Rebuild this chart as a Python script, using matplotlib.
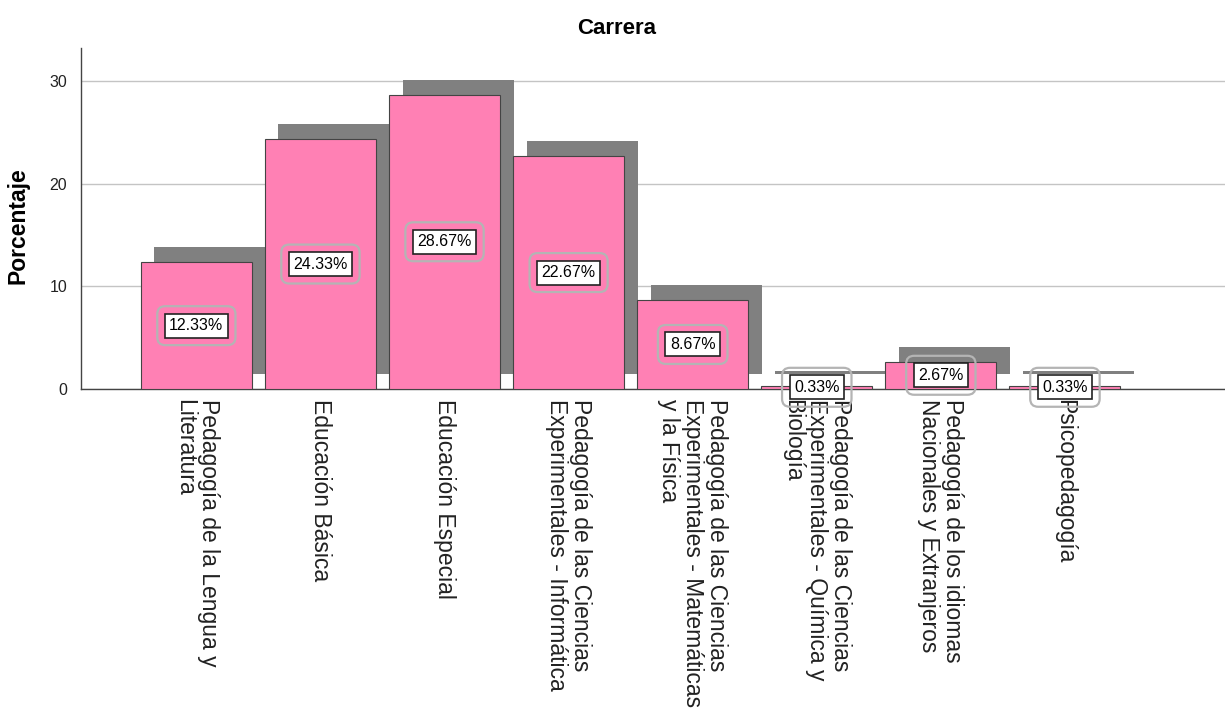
import numpy as np
import matplotlib
matplotlib.use('Agg')
import matplotlib.pyplot as plt

plt.rcParams['font.family'] = ['Liberation Sans', 'DejaVu Sans']

carreras = ['Pedagogía de la Lengua y\nLiteratura',
            'Educación Básica',
            'Educación Especial',
            'Pedagogía de las Ciencias\nExperimentales - Informática',
            'Pedagogía de las Ciencias\nExperimentales - Matemáticas\ny la Física',
            'Pedagogía de las Ciencias\nExperimentales - Química y\nBiología',
            'Pedagogía de los idiomas\nNacionales y Extranjeros',
            'Psicopedagogía']
porcentaje = [12.33, 24.33, 28.67, 22.67, 8.67, 0.33, 2.67, 0.33]

rosa = '#ff80b4'
sombra = '#808080'

fig = plt.figure(figsize=(12.25, 7.11), dpi=100)
ax = fig.add_axes([0.0661, 0.4529, 0.9339, 0.4796])

x = np.arange(len(carreras))
w = 0.895
# sombra desplazada
ax.bar(x + 0.109, porcentaje, width=w, bottom=1.45, color=sombra, zorder=2)
ax.bar(x, porcentaje, width=w, color=rosa, edgecolor='#444444', linewidth=0.8, zorder=3)

for xi, v in zip(x, porcentaje):
    txt = '%.2f%%' % v
    ax.text(xi, v / 2, txt, ha='center', va='center', fontsize=11.5, zorder=4,
            bbox=dict(boxstyle='round,pad=0.75,rounding_size=0.5', fc='none', ec='#b4b4b4', lw=1.6))
    ax.text(xi, v / 2, txt, ha='center', va='center', fontsize=11.5, zorder=5,
            bbox=dict(boxstyle='square,pad=0.28', fc='white', ec='#222222', lw=1.2))

ax.set_xlim(-0.93, 8.29)
ax.set_ylim(0, 33.2)
ax.set_yticks([0, 10, 20, 30])
ax.yaxis.grid(True, color='#c4c4c4', lw=1, zorder=0)
ax.set_axisbelow(True)
ax.set_xticks(x)
ax.set_xticklabels(carreras, rotation=270, ha='center', va='top', multialignment='left',
                   fontsize=16.5, color='#222222', linespacing=1.05)
ax.tick_params(axis='x', length=0, pad=7)
ax.tick_params(axis='y', length=0, pad=10, labelsize=11.5, labelcolor='#222222')
for s in ['top', 'right']:
    ax.spines[s].set_visible(False)
for s in ['left', 'bottom']:
    ax.spines[s].set_color('#444444')
    ax.spines[s].set_linewidth(1)

ax.set_ylabel('Porcentaje', fontsize=16.5, fontweight='bold')
ax.yaxis.set_label_coords(-0.045, 0.48)
fig.text(0.503, 0.96, 'Carrera', ha='center', va='center', fontsize=16, fontweight='bold')

fig.savefig('out.png', dpi=100)
